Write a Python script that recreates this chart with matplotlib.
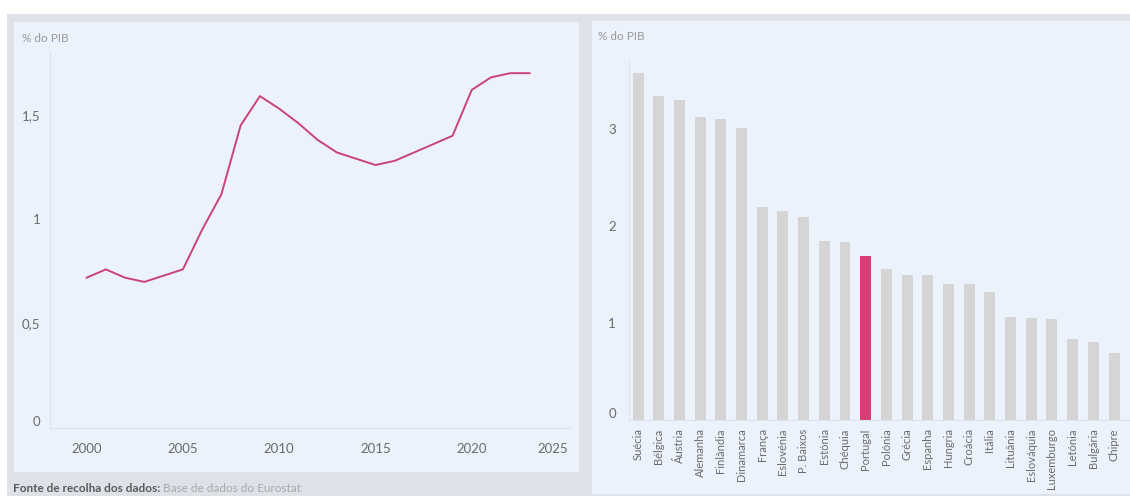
import matplotlib
matplotlib.use("Agg")
import matplotlib.pyplot as plt
from matplotlib.patches import Rectangle

plt.rcParams['font.family'] = ['Lato', 'DejaVu Sans']

# serie temporal (% do PIB)
anos = list(range(2000, 2024))
valores = [0.72, 0.76, 0.72, 0.70, 0.73, 0.76, 0.95, 1.12, 1.45, 1.59, 1.53, 1.46,
           1.38, 1.32, 1.29, 1.26, 1.28, 1.32, 1.36, 1.40, 1.62, 1.68, 1.70, 1.70]
anos_ticks = [2000, 2005, 2010, 2015, 2020, 2025]
y_ticks_esq = [0, 0.5, 1, 1.5]
y_labels_esq = ["0", "0,5", "1", "1,5"]

# comparação entre países
paises = ["Suécia", "Bélgica", "Áustria", "Alemanha", "Finlândia", "Dinamarca", "França",
          "Eslovénia", "P. Baixos", "Estónia", "Chéquia", "Portugal", "Polónia", "Grécia",
          "Espanha", "Hungria", "Croácia", "Itália", "Lituânia", "Eslováquia", "Luxemburgo",
          "Letónia", "Bulgária", "Chipre"]
despesa = [3.58, 3.34, 3.30, 3.12, 3.10, 3.01, 2.20, 2.15, 2.09, 1.85, 1.84, 1.69,
           1.56, 1.49, 1.49, 1.40, 1.40, 1.32, 1.06, 1.05, 1.04, 0.84, 0.80, 0.69]
y_ticks_dir = [0, 1, 2, 3]
destaque = "Portugal"

W, H = 1130, 496
FUNDO = "#dee2e8"
PAINEL = "#ebf2fc"
COR_LINHA = "#c9437a"
COR_DESTAQUE = "#d43e72"
COR_BARRA = "#d5d5d5"
COR_TEXTO = "#6b6b6b"
COR_TITULO = "#9a9a9a"
COR_EIXO = "#dce3ee"


def fx(px):
    return px / W


def fy(py):
    return 1 - py / H


fig = plt.figure(figsize=(W / 100, H / 100), dpi=100)
fig.patch.set_facecolor("white")

# fundo cinzento e painéis
fig.patches.append(Rectangle((fx(7), 0), 1 - fx(7), fy(14), transform=fig.transFigure,
                             facecolor=FUNDO, edgecolor="none", zorder=-3))
fig.patches.append(Rectangle((fx(14), fy(472)), fx(579 - 14), (472 - 22) / H,
                             transform=fig.transFigure, facecolor=PAINEL,
                             edgecolor="none", zorder=-2))
fig.patches.append(Rectangle((fx(592), fy(494)), 1 - fx(592), (494 - 21) / H,
                             transform=fig.transFigure, facecolor=PAINEL,
                             edgecolor="none", zorder=-2))

# ---- gráfico de linha ----
ax1 = fig.add_axes([fx(50), fy(428), fx(570 - 50), (428 - 52.3) / H])
ax1.set_facecolor("none")
ax1.plot(anos, valores, color=COR_LINHA, linewidth=1.4, solid_joinstyle="round")
ax1.set_xlim(1998.1, 2025.1)
ax1.set_ylim(0, 1.8)
ax1.set_xticks(anos_ticks)
ax1.set_xticklabels([str(a) for a in anos_ticks])
ax1.set_yticks(y_ticks_esq)
ax1.set_yticklabels(y_labels_esq)
for s in ["top", "right"]:
    ax1.spines[s].set_visible(False)
ax1.spines["left"].set_color(COR_EIXO)
ax1.spines["bottom"].set_color(COR_EIXO)
ax1.tick_params(length=0, labelsize=9.5, labelcolor=COR_TEXTO)
ax1.tick_params(axis="x", pad=11)
ax1.tick_params(axis="y", pad=7)
for lbl in ax1.get_xticklabels():
    if lbl.get_text() == "2025":
        lbl.set_horizontalalignment("right")
        lbl.set_x(2025.1)
ax1.get_yticklabels()[0].set_verticalalignment("bottom")
fig.text(fx(22), fy(38), "% do PIB", fontsize=8.5, color=COR_TITULO, va="center", ha="left")

# ---- gráfico de barras ----
ax2 = fig.add_axes([fx(628.5), fy(420), 1 - fx(628.5), (420 - 61.1) / H])
ax2.set_facecolor("none")
cores = [COR_DESTAQUE if p == destaque else COR_BARRA for p in paises]
ax2.bar(range(len(paises)), despesa, width=0.53, color=cores)
ax2.set_xlim(-0.46, 23.77)
ax2.set_ylim(0, 3.7)
ax2.set_xticks(range(len(paises)))
ax2.set_xticklabels(paises, rotation=90, ha="center", va="top")
ax2.set_yticks(y_ticks_dir)
for s in ["top", "right"]:
    ax2.spines[s].set_visible(False)
ax2.spines["left"].set_color(COR_EIXO)
ax2.spines["bottom"].set_color(COR_EIXO)
ax2.tick_params(length=0, labelcolor=COR_TEXTO)
ax2.tick_params(axis="x", labelsize=8, pad=6)
ax2.tick_params(axis="y", labelsize=9.5, pad=9)
ax2.get_yticklabels()[0].set_verticalalignment("bottom")
fig.text(fx(598), fy(37), "% do PIB", fontsize=8.5, color=COR_TITULO, va="center", ha="left")

# fonte
t = fig.text(fx(13), fy(488), "Fonte de recolha dos dados: ", fontsize=8.5,
             color="#5a5a5a", fontweight="bold", va="center", ha="left")
fig.canvas.draw()
bb = t.get_window_extent()
fig.text(bb.x1 / W, fy(488), "Base de dados do Eurostat", fontsize=8.5,
         color="#a8a8a8", va="center", ha="left")

fig.savefig("out.png", dpi=100)
